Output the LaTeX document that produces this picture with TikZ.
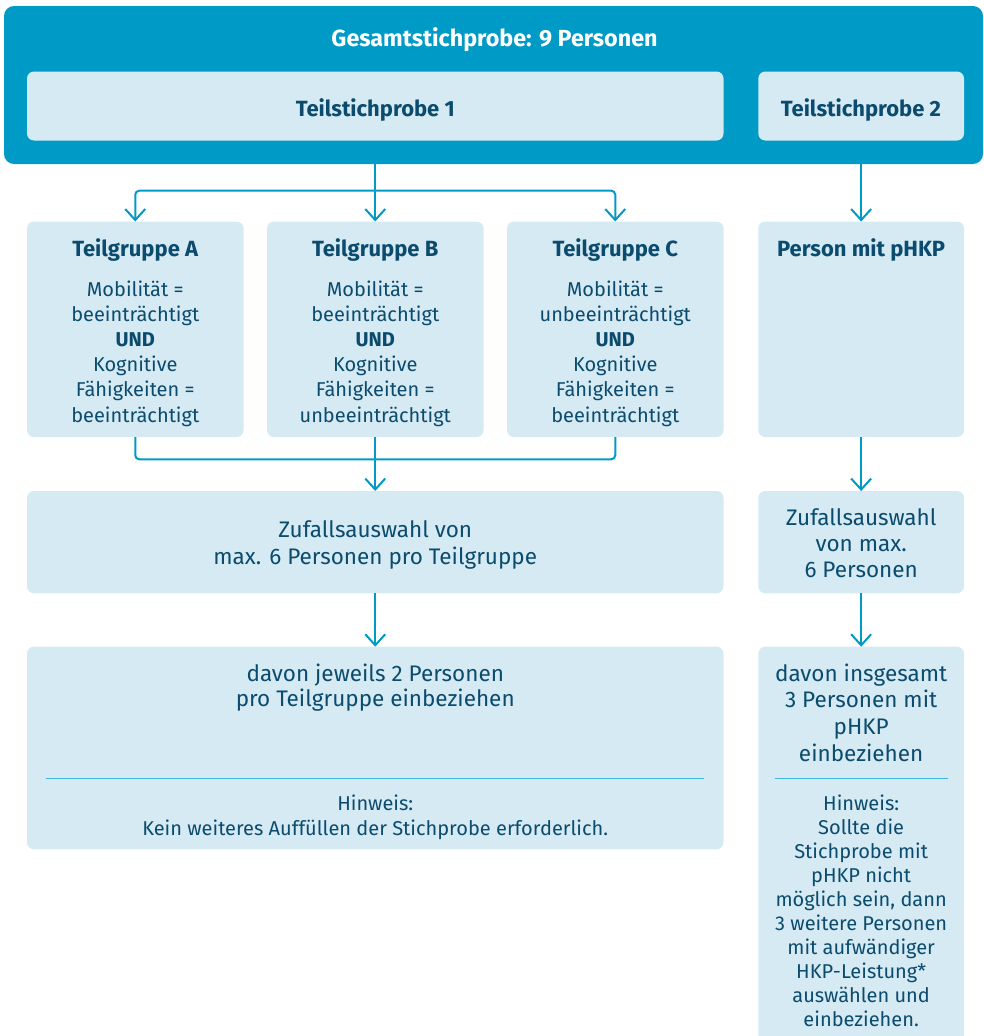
\documentclass[tikz,border=0pt]{standalone}
\usepackage{fontspec}
\setmainfont{Fira Sans}
\usetikzlibrary{arrows.meta}
\definecolor{mainblue}{HTML}{009AC7}
\definecolor{lightbox}{HTML}{D5EAF3}
\definecolor{darktext}{HTML}{0B4B6E}
\definecolor{sepline}{HTML}{42B4DF}
\begin{document}
\begin{tikzpicture}[x=1pt,y=-1pt,
  box/.style={fill=lightbox, rounded corners=7pt, inner sep=0pt, outer sep=0pt, anchor=north west},
  body/.style={font=\fontsize{20}{25.2}\selectfont, text=darktext, align=center, anchor=base, inner sep=0pt},
  big/.style={text=darktext, align=center, anchor=base, inner sep=0pt},
  head/.style={font=\fontsize{22}{26}\selectfont\bfseries, text=darktext, anchor=base, inner sep=0pt},
  conn/.style={draw=mainblue, line width=2pt, rounded corners=4pt},
  arr/.style={conn, -{Straight Barb[length=11pt,width=20pt]}},
  sep/.style={draw=sepline, line width=1.2pt}
]
\useasboundingbox (0,0) rectangle (983,1036);

% outer frame
\node[fill=mainblue, rounded corners=10pt, inner sep=0pt, outer sep=0pt, anchor=north west,
      minimum width=979pt, minimum height=158pt] (outer) at (4,6) {};
\node[head, text=white, font=\fontsize{23.3}{28}\selectfont\bfseries] (title) at (494.5,46.7) {Gesamtstichprobe: 9 Personen};

\node[box, minimum width=696.5pt, minimum height=69pt] (ts1) at (27,71.5) {};
\node[head] (ts1t) at (375.3,116) {Teilstichprobe 1};
\node[box, minimum width=205.7pt, minimum height=69pt] (ts2) at (758.3,71.5) {};
\node[head] (ts2t) at (861,116) {Teilstichprobe 2};

% row of groups
\node[box, minimum width=216.5pt, minimum height=215.5pt] (A) at (27,221.5) {};
\node[box, minimum width=216.5pt, minimum height=215.5pt] (B) at (267,221.5) {};
\node[box, minimum width=216.5pt, minimum height=215.5pt] (C) at (507,221.5) {};
\node[box, minimum width=205.7pt, minimum height=215.5pt] (P) at (758.3,221.5) {};

\node[head] (At) at (A.center |- 0,256) {Teilgruppe A};
\node[head] (Bt) at (B.center |- 0,256) {Teilgruppe B};
\node[head] (Ct) at (C.center |- 0,256) {Teilgruppe C};
\node[head] (Pt) at (P.center |- 0,256) {Person mit pHKP};

% base anchor = baseline of the last line
\node[body] (Ab) at (A.center |- 0,422) {Mobilität =\\beeinträchtigt\\\textbf{UND}\\Kognitive\\Fähigkeiten =\\beeinträchtigt};
\node[body] (Bb) at (B.center |- 0,422) {Mobilität =\\beeinträchtigt\\\textbf{UND}\\Kognitive\\Fähigkeiten =\\unbeeinträchtigt};
\node[body] (Cb) at (C.center |- 0,422) {Mobilität =\\unbeeinträchtigt\\\textbf{UND}\\Kognitive\\Fähigkeiten =\\beeinträchtigt};

% random selection
\node[box, minimum width=696.5pt, minimum height=102.3pt] (Z) at (27,491) {};
\node[box, minimum width=205.7pt, minimum height=102.3pt] (Z2) at (758.3,491) {};
\node[big, font=\fontsize{22.5}{27}\selectfont] (Zt) at (Z.center |- 0,564.3) {Zufallsauswahl von\\max. 6 Personen pro Teilgruppe};
\node[big, font=\fontsize{22.5}{26.3}\selectfont] (Z2t) at (Z2.center |- 0,577.7) {Zufallsauswahl\\von max.\\6 Personen};

% inclusion
\node[box, minimum width=696.5pt, minimum height=202.6pt] (D) at (27,646.7) {};
\node[box, minimum width=205.7pt, minimum height=420pt] (D2) at (758.3,646.7) {};
\node[big, font=\fontsize{22.5}{25.7}\selectfont] (Dt) at (D.center |- 0,706.7) {davon jeweils 2 Personen\\pro Teilgruppe einbeziehen};
\node[body, font=\fontsize{20}{24.3}\selectfont] (Dh) at (D.center |- 0,835) {Hinweis:\\Kein weiteres Auffüllen der Stichprobe erforderlich.};
\node[big, font=\fontsize{22.5}{26.9}\selectfont] (D2t) at (D2.center |- 0,761.7) {davon insgesamt\\3 Personen mit\\pHKP\\einbeziehen};
\node[body, font=\fontsize{20}{24}\selectfont] (D2h) at (D2.center |- 0,1026.7) {Hinweis:\\Sollte die\\Stichprobe mit\\pHKP nicht\\möglich sein, dann\\3 weitere Personen\\mit aufwändiger\\HKP-Leistung*\\auswählen und\\einbeziehen.};

\draw[sep] (46,778.7) -- (704,778.7);
\draw[sep] (774.5,778.3) -- (947.5,778.3);

% connectors
\coordinate (j1) at (B.north |- 0,190.7);
\draw[arr] (outer.south -| B.north) -- (B.north);
\draw[arr] (j1) -| (A.north);
\draw[arr] (j1) -| (C.north);
\draw[arr] (outer.south -| P.north) -- (P.north);

\coordinate (j2) at (B.south |- 0,459.3);
\draw[conn] (A.south) |- (j2);
\draw[conn] (C.south) |- (j2);
\draw[arr] (B.south) -- (Z.north);
\draw[arr] (P.south) -- (Z2.north);
\draw[arr] (Z.south) -- (D.north);
\draw[arr] (Z2.south) -- (D2.north);
\end{tikzpicture}
\end{document}
